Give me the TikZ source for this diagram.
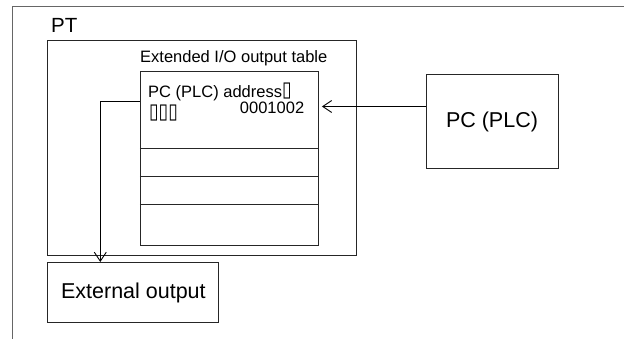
\documentclass[tikz,border=0pt]{standalone}
\usepackage{fontspec}
\setmainfont{Liberation Sans}
\newfontfamily\symfont{DejaVu Sans}
\usetikzlibrary{arrows.meta}
\newcommand{\tofuglyph}{\raisebox{0.8pt}{\scalebox{1.05}[1.28]{\symfont ▯}}}
\begin{document}
\begin{tikzpicture}[x=1pt,y=-1pt,
  box/.style={draw=black!85, line width=1pt, inner sep=0pt},
  frameline/.style={draw=black!60, line width=1.2pt},
  lbl/.style={inner sep=0pt, anchor=base west, font=\fontsize{16.5}{19}\selectfont},
  bigtext/.style={font=\fontsize{21.5}{25}\selectfont},
  conn/.style={draw=black, line width=0.9pt, -{Straight Barb[length=9pt,width=12pt,line width=0.9pt]}}]
\useasboundingbox (0,0) rectangle (624,339);
% outer frame
\draw[frameline] (12.7,339) -- (12.7,6.5) -- (624,6.5);
% boxes
\node[box, minimum width=309pt, minimum height=215pt] (pt) at (202.4,148.1) {};
\node[box, minimum width=178pt, minimum height=174pt] (table) at (229.4,159) {};
\node[box, bigtext, minimum width=132pt, minimum height=94pt] (plc) at (492,121.5) {PC (PLC)};
\node[box, bigtext, minimum width=171pt, minimum height=60pt] (ext) at (133.4,292.5) {External output};
% table rows
\foreach \r in {149,177,204.5}{
  \draw[black!85, line width=1pt] (table.west |- 0,\r) -- (table.east |- 0,\r);
}
% labels
\node[lbl, font=\fontsize{20.5}{24}\selectfont] (ptlabel) at (51,33) {PT};
\node[lbl] (tabtitle) at (140,62.5) {Extended I/O output table};
\node[lbl] (addr) at (148,97.5) {PC (PLC) address\tofuglyph};
\node[lbl, anchor=base east] (val) at (304.4,113.5) {0001002};
\node[lbl] (tofu) at (149,119.5) {\tofuglyph\tofuglyph\tofuglyph};
% connectors
\coordinate (inpt) at (426,106.5);
\draw[conn, shorten >=3pt] (plc.west |- inpt) -- (table.east |- inpt);
\coordinate (bend) at (100.3,101);
\draw[conn] (table.west |- bend) -- (bend) -- (bend |- ext.north);
\end{tikzpicture}
\end{document}
